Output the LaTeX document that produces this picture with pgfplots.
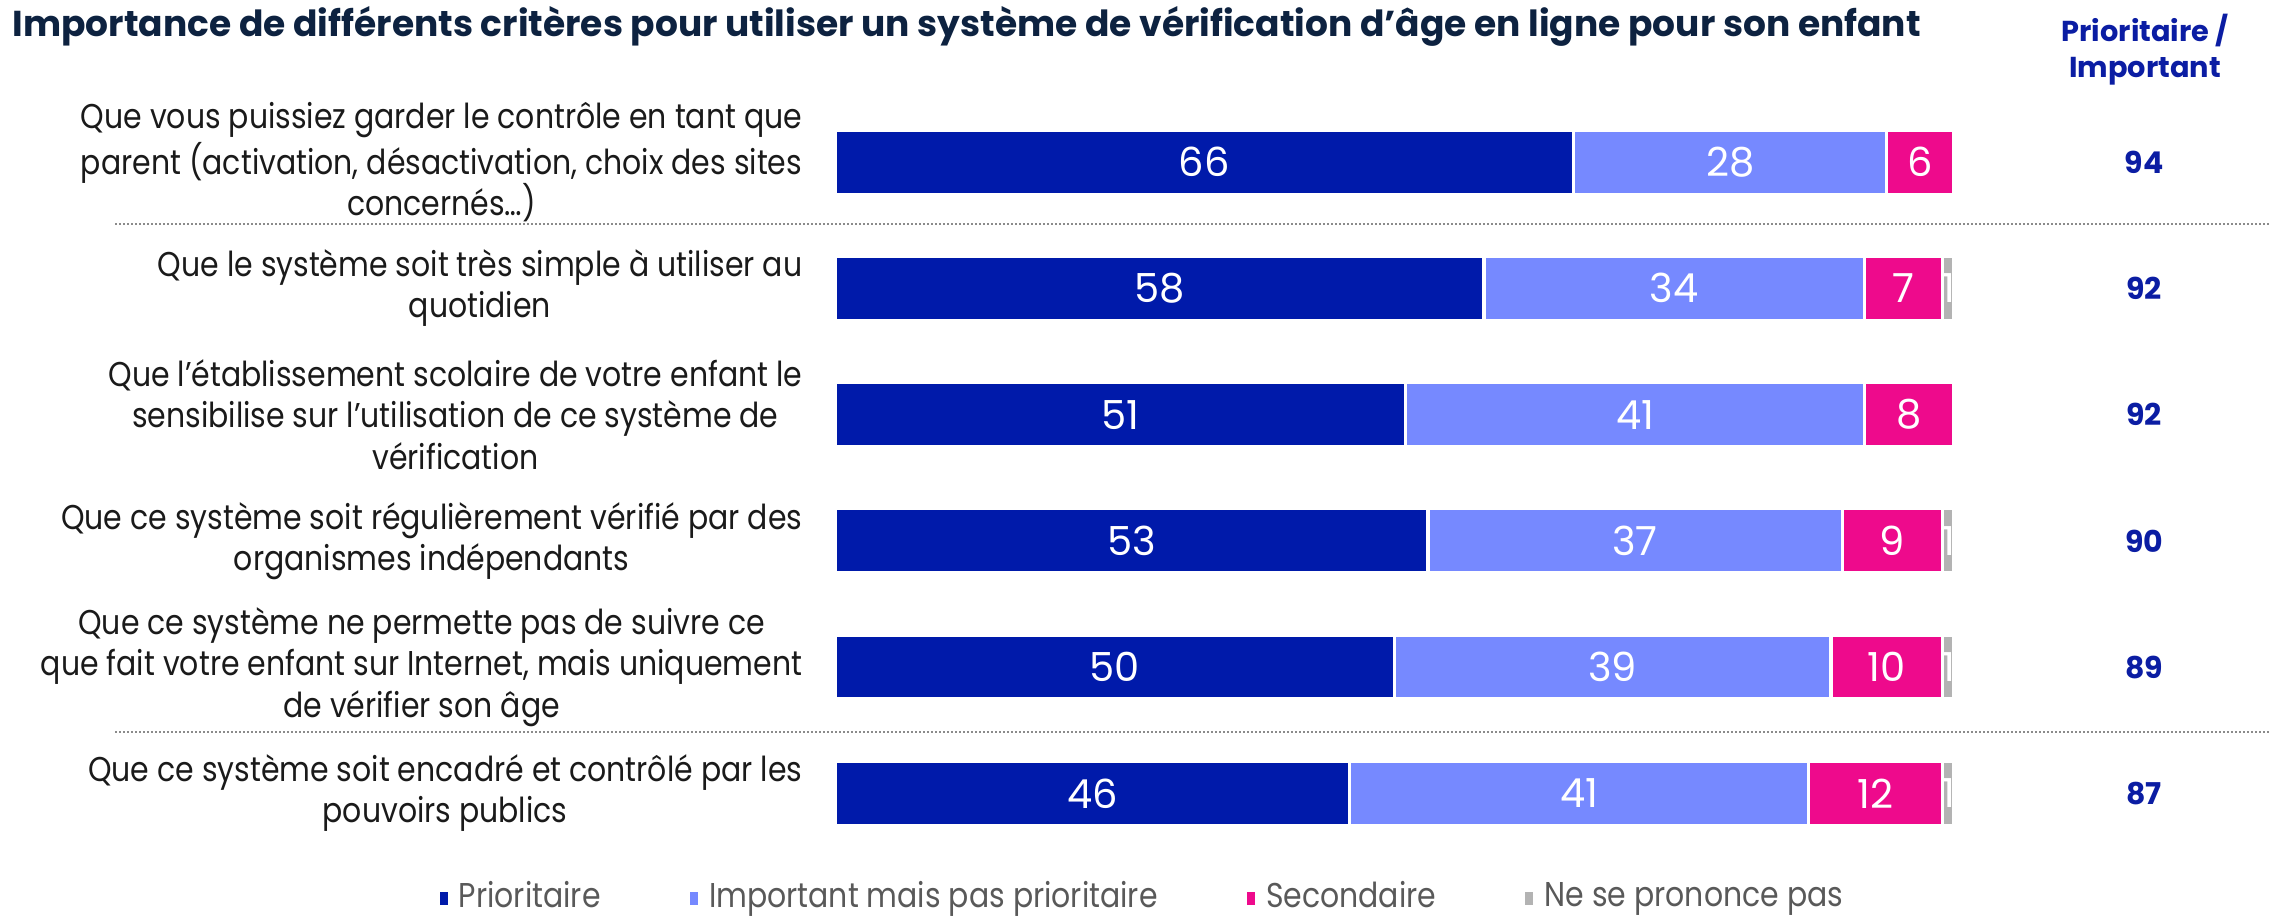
\documentclass[border=0pt]{standalone}
\usepackage{pgfplots}
\pgfplotsset{compat=1.18}
\usepackage{pgfplotstable}
\usepackage{fontspec}
\setmainfont{Poppins}
\newfontfamily\lblfont{Poppins}[FakeStretch=0.87]

\definecolor{prio}{HTML}{001AAA}
\definecolor{imp}{HTML}{7689FF}
\definecolor{sec}{HTML}{EE0A8C}
\definecolor{nsp}{HTML}{B3B3B3}
\definecolor{titlec}{HTML}{0D2240}
\definecolor{totc}{HTML}{0B1DA3}
\definecolor{lblc}{HTML}{1A1A1A}
\definecolor{legc}{HTML}{595959}

% one row per criterion, top to bottom; nl = label shown on the grey bar
\pgfplotstableread{
row p  i  s  n nl tot
1   66 28 6  0 {} 94
2   58 34 7  1 1  92
3   51 41 8  0 {} 92
4   53 37 9  1 1  90
5   50 39 10 1 1  89
6   46 41 12 1 1  87
}\critdata

\begin{document}
\begin{tikzpicture}[x=0.25pt,y=0.25pt]
\begin{axis}[
    at={(208.75pt,204.25pt)}, anchor=north west,
    scale only axis, width=279.75pt, height=189.375pt,
    xbar stacked, bar width=16pt,
    xmin=0, xmax=100, ymin=0.5, ymax=6.5, y dir=reverse,
    axis line style={draw=none}, xtick=\empty,
    ytick={1,2,3,4,5,6}, major tick length=0pt,
    yticklabels={
      {Que vous puissiez garder le contrôle en tant que\\parent (activation, désactivation, choix des sites\\concernés…)},
      {Que le système soit très simple à utiliser au\\quotidien},
      {Que l’établissement scolaire de votre enfant le\\sensibilise sur l’utilisation de ce système de\\vérification},
      {Que ce système soit régulièrement vérifié par des\\organismes indépendants},
      {Que ce système ne permette pas de suivre ce\\que fait votre enfant sur Internet, mais uniquement\\de vérifier son âge},
      {Que ce système soit encadré et contrôlé par les\\pouvoirs publics}},
    yticklabel style={align=center, font=\lblfont\fontsize{8.6}{10.3}\selectfont, text=lblc, inner sep=0pt, xshift=-8pt},
    clip=false,
    nodes near coords,
    every node near coord/.append style={anchor=center, font=\fontsize{10}{12}\selectfont, text=white},
    legend columns=4,
    legend style={draw=none, fill=none, at={(0.276,-0.054)}, anchor=center,
      font=\lblfont\fontsize{8.6}{10.3}\selectfont, text=legc,
      /tikz/every even column/.append style={column sep=19.5pt}},
    legend image code/.code={\fill[#1] (0pt,-2.4pt) rectangle (2.8pt,1.8pt);},
]
\addplot[fill=prio, draw=white, line width=0.8pt, point meta=explicit symbolic] table[x=p, y=row, meta=p]{\critdata};
\addlegendentry{Prioritaire}
\addplot[fill=imp, draw=white, line width=0.8pt, point meta=explicit symbolic] table[x=i, y=row, meta=i]{\critdata};
\addlegendentry{Important mais pas prioritaire}
\addplot[fill=sec, draw=white, line width=0.8pt, point meta=explicit symbolic] table[x=s, y=row, meta=s]{\critdata};
\addlegendentry{Secondaire}
\addplot[fill=nsp, draw=white, line width=0.8pt, point meta=explicit symbolic] table[x=n, y=row, meta=nl]{\critdata};
\addlegendentry{Ne se prononce pas}
\end{axis}

% totals column
\begin{axis}[
    at={(208.75pt,204.25pt)}, anchor=north west,
    scale only axis, width=279.75pt, height=189.375pt,
    xmin=0, xmax=100, ymin=0.5, ymax=6.5, y dir=reverse,
    hide axis, clip=false,
]
\addplot[only marks, mark=none, nodes near coords, point meta=explicit symbolic,
  every node near coord/.append style={anchor=center, font=\bfseries\fontsize{7.5}{9}\selectfont, text=totc}]
  table[x expr=117.0, y=row, meta=tot]{\critdata};
\end{axis}

\node[anchor=west, inner sep=0pt, font=\bfseries\fontsize{9}{11}\selectfont, text=titlec] at (12,890)
  {Importance de différents critères pour utiliser un système de vérification d’âge en ligne pour son enfant};
\node[align=center, font=\bfseries\fontsize{7.2}{9}\selectfont, text=totc] at (2145,866)
  {Prioritaire /\\Important};

\draw[legc!70, line width=0.4pt, dash pattern=on 0.5pt off 0.5pt] (115,692) -- (2270,692);
\draw[legc!70, line width=0.4pt, dash pattern=on 0.5pt off 0.5pt] (115,184) -- (2270,184);

\pgfresetboundingbox
\useasboundingbox (0,0) rectangle (2270,916);
\end{tikzpicture}
\end{document}
